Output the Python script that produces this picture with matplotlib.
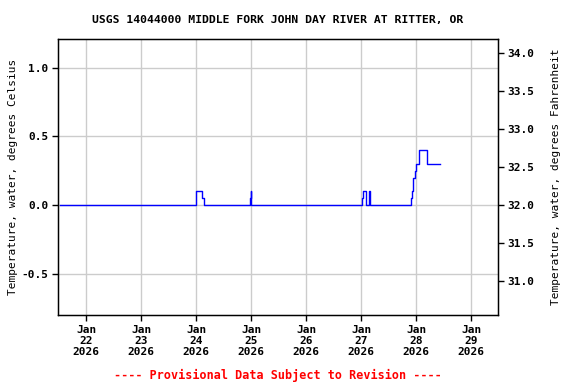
import numpy as np
import matplotlib
matplotlib.use('Agg')
import matplotlib.pyplot as plt

plt.rcParams['font.family'] = 'DejaVu Sans Mono'
plt.rcParams['font.weight'] = 'bold'
plt.rcParams['axes.unicode_minus'] = False

title = 'USGS 14044000 MIDDLE FORK JOHN DAY RIVER AT RITTER, OR'
footer = '---- Provisional Data Subject to Revision ----'

# water temperature, deg C (step series)
times = ['2026-01-21T12:30', '2026-01-24T00:10', '2026-01-24T02:45', '2026-01-24T03:15',
         '2026-01-24T23:20', '2026-01-24T23:45', '2026-01-25T00:05',
         '2026-01-27T00:30', '2026-01-27T00:45', '2026-01-27T02:20', '2026-01-27T03:40',
         '2026-01-27T04:05', '2026-01-27T21:58', '2026-01-27T22:24', '2026-01-27T22:50',
         '2026-01-27T23:30', '2026-01-28T00:00', '2026-01-28T01:26', '2026-01-28T04:41',
         '2026-01-28T04:57', '2026-01-28T10:19']
temps = [0.0, 0.1, 0.05, 0.0,
         0.05, 0.1, 0.0,
         0.05, 0.1, 0.0, 0.1,
         0.0, 0.05, 0.1, 0.2,
         0.25, 0.3, 0.4, 0.35,
         0.3, 0.3]

tick_days = ['2026-01-%02d' % d for d in range(22, 30)]
tick_labels = ['Jan\n%d\n2026' % d for d in range(22, 30)]

t = np.array(times, dtype='datetime64[m]').astype('datetime64[ms]').astype(object)
ticks = np.array(tick_days, dtype='datetime64[D]').astype('datetime64[ms]').astype(object)

fig = plt.figure(figsize=(5.76, 3.84), dpi=100)
ax = fig.add_axes([58/576, 1-315/384, 440/576, 276/384])

ax.plot(t, temps, color='#0000ff', lw=1, drawstyle='steps-post')

x0 = np.datetime64('2026-01-21T11:45').astype('datetime64[ms]').astype(object)
x1 = np.datetime64('2026-01-29T11:45').astype('datetime64[ms]').astype(object)
ax.set_xlim(x0, x1)
ax.set_ylim(-0.8, 1.21)
ax.set_xticks(ticks)
ax.set_xticklabels(tick_labels, linespacing=1.15)
ax.set_yticks([-0.5, 0.0, 0.5, 1.0])
ax.set_yticklabels(['%.1f' % v for v in [-0.5, 0.0, 0.5, 1.0]])
ax.grid(True, color='#cccccc', lw=1)
ax.set_axisbelow(True)
ax.tick_params(labelsize=8, length=4, width=1, pad=3)
ax.set_ylabel('Temperature, water, degrees Celsius', fontsize=8, labelpad=2.5)
for s in ax.spines.values():
    s.set_linewidth(1)

ax2 = ax.twinx()
lo, hi = ax.get_ylim()
ax2.set_ylim(lo*1.8+32, hi*1.8+32)
fticks = [31.0, 31.5, 32.0, 32.5, 33.0, 33.5, 34.0]
ax2.set_yticks(fticks)
ax2.set_yticklabels(['%.1f' % v for v in fticks])
ax2.tick_params(labelsize=8, length=4, width=1, pad=3)
ax2.set_ylabel('Temperature, water, degrees Fahrenheit', fontsize=8, labelpad=12)

cx = 278/576
fig.text(cx, 1-20/384, title, ha='center', va='center', fontsize=8.2)
fig.text(cx, 1-375/384, footer, ha='center', va='center', fontsize=8.5, color='#ff0000')

fig.savefig('out.png', dpi=100)
